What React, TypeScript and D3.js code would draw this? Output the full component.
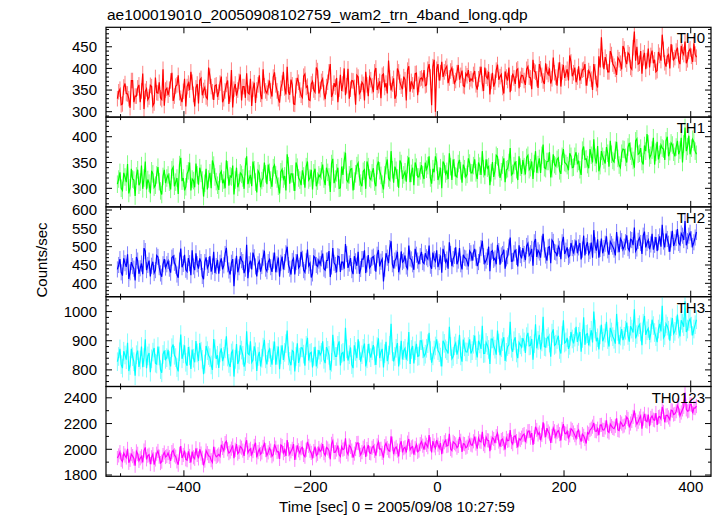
import React from "react";
import * as d3 from "d3";

// ---------- data: two interleaved sets of 4-s samples ----------
// set A at t = -505 + 4i, set B at t = -503 + 4i
const binStart = -505;
const binWidth = 4;

const th0A: number[] = [
  330, 352, 318, 365, 341, 309, 372, 336, 355, 322, 388, 347, 328, 361, 314, 379, 343, 332, 398, 350,
  338, 371, 325, 359, 384, 331, 347, 312, 366, 392, 340, 355, 319, 377, 349, 334, 402, 358, 327, 362,
  345, 381, 330, 363, 318, 396, 352, 337, 370, 326, 358, 389, 341, 313, 367, 350, 384, 329, 360, 343,
  372, 335, 391, 348, 321, 366, 355, 404, 339, 362, 317, 378, 350, 333, 387, 359, 326, 370, 345, 395,
  351, 376, 329, 368, 410, 343, 357, 322, 385, 364, 338, 399, 352, 371, 316, 380, 347, 363, 392, 336,
  374, 345, 401, 360, 331, 387, 366, 418, 349, 377, 338, 392, 359, 381, 326, 405, 370, 352, 389, 363,
  378, 396, 362, 410, 315, 420, 398, 372, 415, 392, 405, 378, 401, 366, 390, 374, 395, 358, 383, 369,
  372, 394, 351, 386, 365, 402, 377, 340, 390, 368, 409, 381, 356, 393, 372, 345, 388, 364, 399, 375,
  383, 362, 404, 378, 420, 391, 355, 399, 371, 412, 386, 365, 425, 380, 396, 358, 408, 389, 372, 415,
  390, 368, 405, 382, 398, 360, 395, 375, 410, 365, 428, 472, 398, 415, 392, 432, 405, 385, 420, 398,
  445, 410, 432, 398, 485, 450, 412, 388, 436, 418, 402, 441, 420, 395, 430, 478, 413, 428, 400, 437,
  425, 448, 410, 438, 462, 420, 445, 415, 433,
];
const th0B: number[] = [
  346, 316, 357, 342, 330, 372, 322, 336, 362, 348, 306, 353, 334, 358, 320, 344, 368, 328, 314, 354,
  352, 390, 336, 362, 344, 322, 376, 358, 350, 368, 312, 364, 372, 338, 356, 330, 382, 346, 360, 334,
  366, 322, 348, 372, 340, 310, 364, 350, 386, 358, 332, 344, 376, 352, 320, 362, 340, 398, 348, 356,
  348, 380, 362, 330, 354, 392, 340, 346, 374, 318, 360, 368, 338, 382, 356, 328, 364, 350, 402, 342,
  370, 344, 358, 392, 334, 366, 378, 352, 348, 400, 360, 330, 372, 356, 384, 342, 368, 326, 362, 380,
  360, 392, 350, 370, 384, 356, 342, 378, 364, 330, 400, 368, 352, 374, 396, 346, 362, 388, 338, 376,
  372, 360, 398, 380, 404, 300, 410, 390, 380, 400, 366, 394, 382, 372, 408, 384, 360, 388, 396, 376,
  386, 362, 376, 404, 348, 382, 392, 370, 358, 396, 374, 386, 342, 380, 402, 366, 378, 396, 354, 384,
  372, 398, 380, 352, 394, 376, 410, 384, 364, 392, 400, 376, 390, 360, 414, 392, 378, 398, 430, 382,
  402, 380, 372, 396, 410, 378, 388, 350, 392, 356, 402, 420, 426, 392, 440, 410, 398, 425, 412, 452,
  420, 436, 402, 448, 418, 410, 440, 425, 398, 446, 430, 412, 392, 438, 418, 444, 404, 432, 456, 420,
  440, 418, 452, 432, 412, 440, 428, 458, 426,
];

const th1A: number[] = [
  308, 331, 296, 322, 347, 301, 318, 285, 336, 312, 299, 352, 317, 290, 328, 306, 341, 295, 323, 310,
  326, 298, 341, 312, 289, 359, 320, 303, 334, 296, 315, 348, 307, 329, 284, 338, 318, 300, 345, 313,
  297, 333, 316, 354, 305, 322, 288, 340, 311, 327, 299, 362, 318, 304, 336, 292, 329, 315, 350, 308,
  331, 303, 345, 318, 290, 337, 324, 366, 309, 328, 295, 341, 316, 335, 301, 352, 320, 298, 338, 314,
  322, 346, 306, 331, 293, 357, 318, 340, 301, 326, 369, 312, 337, 296, 328, 349, 310, 333, 299, 342,
  317, 339, 304, 352, 325, 298, 344, 320, 372, 311, 335, 301, 348, 326, 313, 360, 329, 306, 341, 322,
  345, 318, 337, 362, 309, 331, 351, 324, 300, 347, 333, 368, 316, 340, 322, 355, 311, 338, 327, 349,
  330, 356, 318, 343, 372, 325, 339, 306, 351, 334, 361, 320, 345, 312, 338, 378, 329, 352, 316, 341,
  355, 327, 364, 340, 318, 372, 346, 330, 385, 338, 352, 321, 366, 343, 359, 328, 376, 348, 335, 362,
  341, 370, 352, 326, 381, 357, 339, 364, 395, 348, 333, 372, 355, 380, 342, 366, 351, 390, 345, 368,
  375, 350, 388, 362, 340, 396, 368, 352, 383, 405, 359, 374, 346, 390, 366, 378, 355, 400, 371, 384,
  362, 392, 374, 350, 418, 381, 366, 395, 372,
];
const th1B: number[] = [
  318, 300, 330, 312, 290, 338, 316, 324, 306, 344, 320, 298, 310, 334, 302, 326, 313, 288, 336, 320,
  312, 336, 304, 320, 346, 314, 296, 328, 350, 318, 302, 326, 340, 316, 310, 298, 330, 354, 322, 306,
  328, 310, 300, 336, 324, 344, 316, 302, 330, 320, 342, 308, 326, 352, 312, 334, 302, 320, 328, 346,
  316, 340, 326, 304, 332, 318, 296, 344, 328, 312, 350, 320, 306, 324, 342, 316, 336, 330, 304, 326,
  334, 318, 340, 322, 348, 310, 330, 300, 342, 354, 316, 326, 338, 314, 344, 322, 304, 336, 352, 320,
  330, 312, 344, 334, 308, 326, 356, 316, 336, 342, 320, 354, 318, 332, 346, 312, 340, 350, 322, 334,
  326, 350, 344, 320, 338, 362, 316, 340, 352, 328, 318, 342, 356, 324, 348, 334, 346, 322, 358, 330,
  344, 330, 350, 326, 338, 356, 342, 330, 322, 364, 340, 332, 358, 336, 350, 326, 344, 336, 362, 328,
  342, 360, 336, 352, 348, 330, 358, 364, 340, 352, 370, 338, 346, 356, 334, 362, 350, 344, 368, 340,
  362, 348, 336, 374, 356, 346, 376, 350, 360, 382, 344, 362, 348, 368, 392, 354, 374, 358, 340, 376,
  360, 380, 372, 354, 392, 366, 378, 346, 372, 386, 364, 398, 370, 356, 384, 376, 392, 362, 388, 370,
  380, 366, 398, 386, 372, 402, 378, 390, 366,
];

const th2A: number[] = [
  438, 466, 421, 455, 479, 430, 447, 408, 462, 441, 425, 488, 450, 419, 459, 436, 472, 427, 452, 443,
  461, 429, 474, 448, 415, 495, 453, 437, 469, 422, 446, 482, 440, 458, 411, 471, 450, 432, 486, 447,
  426, 468, 449, 497, 435, 456, 392, 475, 444, 463, 428, 505, 452, 438, 471, 419, 460, 447, 489, 433,
  465, 431, 484, 452, 418, 473, 458, 500, 440, 461, 424, 479, 448, 467, 430, 492, 455, 427, 470, 446,
  452, 481, 436, 463, 417, 496, 450, 474, 431, 458, 507, 442, 469, 425, 460, 486, 439, 466, 428, 477,
  448, 473, 432, 491, 459, 405, 482, 455, 515, 441, 468, 430, 487, 462, 446, 503, 465, 437, 478, 452,
  486, 454, 471, 503, 440, 466, 490, 458, 429, 481, 465, 512, 447, 475, 452, 496, 438, 470, 459, 488,
  462, 494, 447, 478, 516, 455, 472, 433, 489, 468, 505, 451, 480, 440, 474, 525, 461, 492, 446, 477,
  496, 463, 509, 482, 448, 521, 490, 470, 535, 476, 498, 455, 513, 484, 501, 466, 527, 489, 472, 510,
  481, 517, 498, 465, 530, 502, 480, 511, 545, 489, 470, 522, 496, 528, 478, 507, 492, 540, 485, 515,
  500, 531, 489, 518, 552, 495, 524, 480, 541, 510, 493, 535, 505, 488, 528, 560, 498, 521, 486, 543,
  512, 548, 505, 530, 570, 515, 538, 502, 525,
];
const th2B: number[] = [
  450, 430, 468, 445, 412, 458, 440, 472, 426, 454, 496, 436, 462, 448, 428, 476, 444, 418, 466, 452,
  440, 470, 456, 424, 462, 444, 478, 432, 455, 490, 436, 452, 468, 420, 458, 442, 474, 446, 428, 464,
  456, 438, 480, 452, 424, 466, 446, 430, 474, 458, 440, 414, 462, 484, 446, 452, 432, 470, 440, 458,
  444, 462, 430, 470, 456, 438, 482, 450, 424, 468, 458, 442, 486, 436, 460, 448, 416, 474, 450, 462,
  468, 440, 462, 488, 446, 456, 430, 472, 458, 440, 480, 454, 436, 474, 448, 426, 466, 490, 452, 442,
  470, 456, 478, 446, 466, 440, 470, 496, 452, 462, 486, 446, 458, 476, 440, 468, 452, 494, 462, 474,
  458, 482, 466, 448, 484, 460, 444, 476, 494, 458, 440, 480, 466, 498, 462, 452, 478, 468, 446, 482,
  484, 470, 458, 496, 474, 462, 500, 486, 464, 452, 488, 476, 492, 468, 498, 460, 482, 472, 504, 468,
  480, 502, 476, 494, 512, 472, 484, 508, 492, 462, 500, 518, 486, 474, 494, 512, 480, 498, 476, 496,
  498, 482, 510, 492, 476, 512, 488, 470, 504, 520, 494, 482, 508, 490, 514, 500, 476, 506, 522, 492,
  512, 496, 520, 504, 488, 516, 510, 530, 498, 518, 506, 492, 526, 512, 500, 514, 536, 508, 520, 502,
  524, 510, 536, 518, 504, 530, 520, 512, 540,
];

const th3A: number[] = [
  828, 872, 806, 851, 893, 815, 845, 780, 866, 834, 809, 905, 848, 792, 861, 823, 880, 801, 853, 836,
  869, 812, 887, 842, 795, 921, 855, 826, 878, 803, 840, 899, 831, 864, 785, 882, 849, 817, 906, 838,
  807, 874, 846, 915, 822, 858, 777, 889, 833, 868, 811, 932, 852, 826, 881, 796, 862, 840, 903, 819,
  871, 818, 897, 850, 802, 884, 860, 935, 829, 866, 795, 891, 843, 875, 814, 910, 857, 808, 879, 837,
  851, 898, 823, 867, 799, 920, 846, 884, 815, 860, 944, 832, 877, 806, 863, 905, 828, 874, 812, 889,
  842, 885, 817, 908, 862, 808, 896, 851, 958, 829, 874, 812, 900, 866, 835, 930, 870, 822, 889, 848,
  900, 846, 874, 927, 825, 868, 905, 859, 812, 891, 866, 948, 838, 882, 852, 920, 828, 879, 861, 905,
  866, 918, 843, 889, 951, 857, 884, 820, 906, 871, 935, 850, 897, 831, 880, 965, 862, 912, 840, 886,
  909, 858, 927, 884, 835, 956, 901, 870, 982, 878, 914, 845, 939, 888, 917, 856, 970, 896, 872, 930,
  891, 948, 915, 862, 980, 922, 884, 936, 1000, 898, 870, 955, 910, 965, 880, 930, 905, 992, 888, 940,
  915, 962, 897, 940, 1008, 921, 955, 885, 985, 934, 903, 972, 928, 895, 958, 1020, 918, 950, 900, 978,
  932, 990, 915, 960, 1035, 940, 975, 918, 955,
];
const th3B: number[] = [
  846, 818, 864, 835, 796, 872, 828, 852, 810, 880, 842, 806, 858, 838, 875, 820, 848, 790, 866, 842,
  832, 876, 850, 808, 862, 838, 884, 814, 848, 870, 826, 858, 892, 836, 820, 866, 842, 800, 872, 850,
  858, 830, 872, 844, 810, 866, 836, 820, 884, 850, 828, 856, 898, 834, 862, 846, 812, 878, 838, 860,
  842, 866, 818, 880, 852, 834, 890, 848, 816, 862, 846, 824, 876, 854, 884, 832, 860, 846, 812, 868,
  860, 836, 878, 850, 826, 866, 846, 898, 856, 830, 872, 852, 818, 884, 840, 866, 852, 890, 838, 858,
  866, 848, 880, 840, 872, 856, 830, 884, 862, 846, 892, 850, 836, 874, 862, 820, 882, 866, 846, 900,
  872, 854, 890, 866, 848, 882, 866, 844, 900, 872, 856, 880, 846, 892, 870, 848, 904, 862, 880, 856,
  888, 866, 900, 872, 856, 894, 870, 906, 882, 852, 892, 876, 912, 860, 886, 874, 900, 858, 894, 878,
  896, 914, 882, 906, 890, 874, 920, 896, 880, 908, 892, 926, 884, 904, 870, 918, 892, 910, 884, 906,
  912, 896, 930, 908, 886, 924, 912, 894, 940, 910, 920, 898, 926, 904, 944, 914, 890, 932, 916, 902,
  936, 918, 950, 928, 908, 946, 930, 960, 920, 942, 926, 952, 914, 940, 932, 910, 958, 936, 948, 924,
  952, 940, 970, 948, 930, 966, 950, 940, 972,
];

const th0123A: number[] = [
  1932, 1978, 1905, 1951, 2003, 1918, 1947, 1872, 1965, 1930, 1898, 2015, 1950, 1885, 1962, 1921, 1987, 1893, 1955, 1940,
  1971, 1910, 1992, 1943, 1880, 2025, 1956, 1922, 1984, 1897, 1938, 2008, 1929, 1967, 1875, 1990, 1948, 1915, 2020, 1941,
  1960, 2035, 1988, 2062, 1970, 2005, 1931, 2040, 1979, 2012, 1948, 2070, 1992, 1958, 2026, 1937, 2001, 1975, 2044, 1952,
  2009, 1946, 2038, 1980, 1925, 2025, 1995, 2072, 1962, 2003, 1918, 2031, 1970, 2015, 1942, 2058, 1988, 1930, 2020, 1965,
  1983, 2040, 1952, 2006, 1922, 2065, 1978, 2029, 1944, 1997, 2085, 1960, 2018, 1935, 2002, 2050, 1957, 2012, 1940, 2033,
  1968, 2025, 1950, 2058, 2004, 1935, 2046, 1990, 2100, 1962, 2018, 1945, 2062, 2008, 1975, 2080, 2015, 1958, 2036, 1990,
  2060, 1998, 2035, 2110, 1975, 2030, 2072, 2010, 1962, 2055, 2025, 2120, 1990, 2048, 2012, 2095, 1980, 2040, 2020, 2075,
  2030, 2098, 2005, 2062, 2135, 2025, 2070, 1985, 2090, 2048, 2125, 2020, 2080, 1998, 2066, 2150, 2040, 2105, 2015, 2072,
  2110, 2055, 2140, 2090, 2035, 2175, 2115, 2070, 2210, 2095, 2138, 2050, 2165, 2100, 2145, 2068, 2195, 2120, 2088, 2160,
  2130, 2085, 2150, 2060, 2105, 2045, 2120, 2160, 2205, 2140, 2110, 2190, 2150, 2225, 2130, 2180, 2160, 2240, 2145, 2200,
  2185, 2250, 2170, 2220, 2300, 2195, 2240, 2160, 2275, 2215, 2180, 2260, 2225, 2190, 2255, 2330, 2210, 2265, 2230, 2300,
  2275, 2340, 2260, 2310, 2440, 2295, 2350, 2280, 2320,
];
const th0123B: number[] = [
  1952, 1918, 1970, 1936, 1895, 1962, 1928, 1984, 1910, 1945, 1990, 1922, 1958, 1938, 1880, 1966, 1942, 1904, 1975, 1948,
  1940, 1978, 1954, 1906, 1965, 1932, 1990, 1915, 1948, 1982, 1926, 1956, 2000, 1934, 1912, 1970, 1946, 1898, 1962, 1950,
  1945, 2010, 2048, 2000, 1982, 2030, 1996, 1966, 2022, 1990, 2038, 1972, 2004, 1986, 2050, 1978, 1962, 2018, 1994, 1976,
  1990, 1960, 2012, 1982, 2034, 1970, 1948, 2000, 1984, 2040, 1974, 1992, 2008, 1956, 1996, 2026, 1972, 1986, 1952, 2010,
  1996, 1970, 2014, 1988, 2042, 1976, 1998, 1958, 2020, 2004, 1980, 2030, 1990, 1966, 2048, 1994, 1978, 2024, 2002, 1972,
  2012, 1988, 2030, 2000, 1972, 2024, 2010, 1984, 2044, 2006, 1990, 2034, 1976, 2016, 2052, 1996, 2022, 2008, 1980, 2040,
  2028, 2052, 2016, 2040, 2064, 2008, 2036, 2048, 2022, 2070, 2030, 2002, 2058, 2038, 2026, 2066, 2044, 2012, 2050, 2036,
  2062, 2044, 2086, 2058, 2040, 2094, 2068, 2050, 2080, 2102, 2060, 2072, 2046, 2088, 2070, 2056, 2100, 2064, 2082, 2090,
  2118, 2100, 2142, 2126, 2096, 2150, 2130, 2112, 2146, 2164, 2122, 2104, 2140, 2134, 2118, 2158, 2126, 2140, 2108, 2150,
  2110, 2136, 2090, 2118, 2080, 2130, 2150, 2176, 2142, 2160, 2188, 2152, 2170, 2140, 2196, 2166, 2182, 2150, 2212, 2178,
  2210, 2236, 2200, 2252, 2226, 2214, 2260, 2238, 2222, 2270, 2244, 2230, 2282, 2250, 2236, 2290, 2262, 2248, 2304, 2270,
  2296, 2318, 2286, 2330, 2310, 2300, 2346, 2322, 2336,
];

const seriesA = [th0A, th1A, th2A, th3A, th0123A];
const seriesB = [th0B, th1B, th2B, th3B, th0123B];
const panelNames = ["TH0", "TH1", "TH2", "TH3", "TH0123"];
const panelColors = ["#ff0000", "#00ff00", "#0000ff", "#00ffff", "#ff00ff"];
const errors = [18, 17, 22, 32, 55];
const yDomains: [number, number][] = [
  [287.5, 495],
  [264, 438],
  [363.5, 608.5],
  [743, 1051],
  [1790, 2488],
];
const yLabelTicks = [
  [300, 350, 400, 450],
  [300, 350, 400],
  [400, 450, 500, 550, 600],
  [800, 900, 1000],
  [1800, 2000, 2200, 2400],
];
const yMinorStep = [10, 10, 10, 20, 100];
const xLabelTicks = [-400, -200, 0, 200, 400];
const xMinorStep = 100;
const xDomain: [number, number] = [-523, 432];

const title = "ae100019010_20050908102759_wam2_trn_4band_long.qdp";
const yTitle = "Counts/sec";
const xTitle = "Time [sec] 0 = 2005/09/08 10:27:59";

// ---------- layout ----------
const W = 717;
const H = 516;
const left = 106;
const right = 711;
const top = 27.3;
const bottom = 476.3;
const nP = 5;
const pH = (bottom - top) / nP;
const FONT = "'Liberation Sans', Arial, Helvetica, sans-serif";
const MAJ = 6;
const MIN = 3;

const fmt = (v: number) => (v < 0 ? "\u2212" + Math.abs(v) : String(v));

type Pt = { t: number; v: number };

function mergeSets(a: number[], b: number[]): Pt[] {
  const pts: Pt[] = [];
  a.forEach((v, i) => {
    pts.push({ t: binStart + i * binWidth, v });
    if (i < b.length) pts.push({ t: binStart + binWidth / 2 + i * binWidth, v: b[i] });
  });
  return pts;
}

export default function App() {
  const x = d3.scaleLinear().domain(xDomain).range([left, right]);
  const xMinor = d3
    .range(Math.ceil(xDomain[0] / xMinorStep) * xMinorStep, xDomain[1], xMinorStep)
    .filter((t) => !xLabelTicks.includes(t));

  return (
    <svg
      width={W}
      height={H}
      style={{ position: "absolute", left: 0, top: 0, background: "#fff" }}
      fontFamily={FONT}
    >
      <rect x={0} y={0} width={W} height={H} fill="#fff" />
      <defs>
        {seriesA.map((_, k) => (
          <clipPath id={`clip${k}`} key={k}>
            <rect x={left} y={top + k * pH} width={right - left} height={pH} />
          </clipPath>
        ))}
      </defs>
      {seriesA.map((valsA, k) => {
        const pts = mergeSets(valsA, seriesB[k]);
        const y0 = top + k * pH;
        const y = d3.scaleLinear().domain(yDomains[k]).range([y0 + pH, y0]);
        const line = d3
          .line<Pt>()
          .x((d) => x(d.t))
          .y((d) => y(d.v));
        const err = errors[k];
        const dom = yDomains[k];
        const minor = d3
          .range(Math.ceil(dom[0] / yMinorStep[k]) * yMinorStep[k], dom[1], yMinorStep[k])
          .filter((v) => !yLabelTicks[k].includes(v));
        const errPath = pts
          .map((d) => `M${x(d.t).toFixed(2)},${y(d.v - err).toFixed(2)}V${y(d.v + err).toFixed(2)}`)
          .join("");
        return (
          <g key={k}>
            <g clipPath={`url(#clip${k})`}>
              <path d={errPath} stroke={panelColors[k]} strokeOpacity={0.5} strokeWidth={1} fill="none" />
              <path d={line(pts) || ""} fill="none" stroke={panelColors[k]} strokeWidth={1.2} />
            </g>
            <rect
              x={left}
              y={y0}
              width={right - left}
              height={pH}
              fill="none"
              stroke="#000"
              strokeWidth={1.2}
            />
            {yLabelTicks[k].map((v) => (
              <g key={`yl${v}`}>
                <line x1={left} x2={left + MAJ} y1={y(v)} y2={y(v)} stroke="#000" strokeWidth={1} />
                <line x1={right} x2={right - MAJ} y1={y(v)} y2={y(v)} stroke="#000" strokeWidth={1} />
                <text x={97} y={y(v)} dy="0.36em" textAnchor="end" fontSize={15} fill="#000">
                  {fmt(v)}
                </text>
              </g>
            ))}
            {minor.map((v) => (
              <g key={`ym${v}`}>
                <line x1={left} x2={left + MIN} y1={y(v)} y2={y(v)} stroke="#000" strokeWidth={1} />
                <line x1={right} x2={right - MIN} y1={y(v)} y2={y(v)} stroke="#000" strokeWidth={1} />
              </g>
            ))}
            {xLabelTicks.map((t) => (
              <g key={`xl${t}`}>
                <line x1={x(t)} x2={x(t)} y1={y0} y2={y0 + MAJ} stroke="#000" strokeWidth={1} />
                <line x1={x(t)} x2={x(t)} y1={y0 + pH} y2={y0 + pH - MAJ} stroke="#000" strokeWidth={1} />
              </g>
            ))}
            {xMinor.map((t) => (
              <g key={`xm${t}`}>
                <line x1={x(t)} x2={x(t)} y1={y0} y2={y0 + MIN} stroke="#000" strokeWidth={1} />
                <line x1={x(t)} x2={x(t)} y1={y0 + pH} y2={y0 + pH - MIN} stroke="#000" strokeWidth={1} />
              </g>
            ))}
            <text x={705} y={y0 + 16} textAnchor="end" fontSize={15} fill="#000">
              {panelNames[k]}
            </text>
          </g>
        );
      })}
      {xLabelTicks.map((t) => (
        <text key={`xt${t}`} x={x(t)} y={492} textAnchor="middle" fontSize={15} fill="#000">
          {fmt(t)}
        </text>
      ))}
      <text x={107} y={19.5} fontSize={15.5} fill="#000">
        {title}
      </text>
      <text x={397} y={511.5} textAnchor="middle" fontSize={15} fill="#000">
        {xTitle}
      </text>
      <text transform={`translate(46.5, 260) rotate(-90)`} textAnchor="middle" fontSize={15} fill="#000">
        {yTitle}
      </text>
    </svg>
  );
}
